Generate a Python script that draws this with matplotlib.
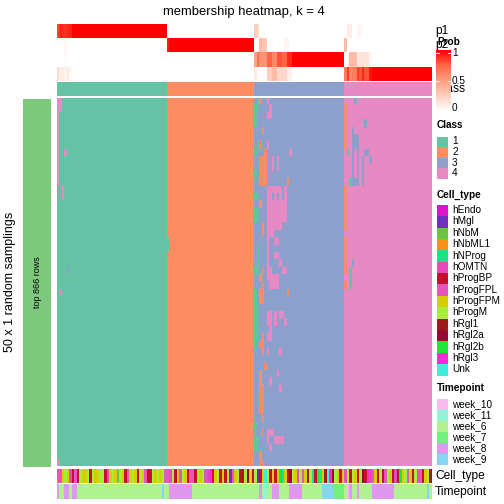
import numpy as np
import matplotlib
matplotlib.use("Agg")
import matplotlib.pyplot as plt
from matplotlib.colors import ListedColormap, LinearSegmentedColormap

plt.rcParams['font.family'] = ['Liberation Sans', 'DejaVu Sans']

# ---------------- data ----------------
title = "membership heatmap, k = 4"
class_sizes = [44, 35, 36, 35]          # samples per consensus class (columns)
n_rows = 50                              # random samplings
class_labels = ["1", "2", "3", "4"]
class_colors = ["#66C2A5", "#FC8D62", "#8DA0CB", "#E78AC3"]

# deviations in the membership matrix: (row_from, row_to, col_from, col_to, class), cols relative to group start
dev_group1 = [(0, 1, 0, 1, 4), (2, 11, 0, 0, 4), (7, 7, 3, 3, 4), (12, 13, 2, 2, 4),
              (23, 23, 4, 4, 3), (26, 26, 1, 1, 4), (49, 49, 0, 0, 4)]
dev_group2 = [(19, 20, 0, 0, 1)]
dev_group3 = [(0, 0, 1, 1, 1), (0, 0, 2, 2, 2), (0, 0, 5, 5, 4), (1, 1, 0, 1, 1), (1, 1, 6, 6, 4),
              (2, 2, 0, 0, 1), (2, 2, 5, 6, 4), (3, 3, 0, 0, 1), (4, 4, 3, 3, 2),
              (6, 6, 1, 1, 1), (6, 6, 2, 2, 2), (6, 6, 5, 5, 4), (7, 7, 0, 0, 1), (7, 7, 4, 4, 2),
              (7, 7, 14, 14, 4), (8, 11, 2, 4, 2), (8, 9, 7, 7, 4), (8, 9, 9, 9, 4), (10, 10, 0, 0, 1),
              (11, 11, 13, 13, 2), (12, 16, 5, 12, 4), (13, 13, 7, 7, 3), (13, 13, 9, 9, 3),
              (12, 13, 11, 11, 3), (13, 13, 0, 1, 1), (14, 14, 2, 2, 2), (15, 16, 0, 1, 1),
              (17, 17, 5, 10, 4), (17, 18, 3, 3, 2), (18, 18, 5, 7, 4), (19, 19, 5, 5, 4),
              (19, 19, 8, 9, 4), (20, 22, 5, 5, 4), (20, 22, 1, 1, 1), (21, 21, 8, 9, 4),
              (22, 22, 10, 10, 4), (23, 23, 0, 1, 1), (23, 23, 3, 3, 2), (23, 23, 5, 6, 4),
              (23, 23, 11, 12, 4), (24, 24, 2, 2, 2), (24, 24, 5, 5, 4), (24, 25, 6, 9, 4),
              (25, 25, 3, 3, 2), (26, 27, 0, 0, 1), (26, 27, 2, 3, 2), (26, 26, 13, 13, 2),
              (28, 32, 0, 1, 1), (29, 30, 5, 6, 4), (29, 30, 8, 8, 4), (29, 29, 10, 11, 4),
              (30, 30, 12, 12, 4), (31, 31, 6, 6, 4), (32, 32, 3, 3, 2), (32, 32, 5, 6, 4),
              (33, 33, 0, 0, 1), (33, 33, 2, 3, 2), (34, 34, 3, 3, 2), (34, 34, 5, 5, 4),
              (34, 34, 10, 10, 4), (36, 36, 4, 4, 2), (37, 38, 2, 2, 2), (37, 37, 9, 9, 4),
              (38, 38, 6, 6, 4), (39, 42, 2, 3, 2), (39, 39, 10, 10, 4), (43, 43, 3, 3, 2),
              (44, 44, 0, 0, 1), (45, 45, 3, 3, 2), (45, 45, 5, 7, 4), (46, 47, 0, 1, 1),
              (46, 46, 5, 5, 4), (46, 46, 8, 11, 4), (47, 47, 6, 6, 4), (48, 48, 2, 2, 2),
              (49, 49, 2, 3, 2)]
dev_group4 = [(1, 6, 0, 0, 2), (12, 17, 0, 0, 2), (19, 23, 0, 0, 2), (25, 25, 0, 0, 2),
              (0, 0, 4, 4, 3), (3, 3, 8, 8, 3), (4, 4, 3, 3, 3), (5, 11, 3, 5, 3), (7, 10, 4, 4, 4),
              (7, 7, 1, 1, 1), (7, 7, 8, 9, 3), (8, 8, 7, 7, 3), (8, 8, 10, 10, 3), (9, 11, 7, 7, 3),
              (11, 11, 2, 2, 1), (22, 22, 3, 3, 3), (23, 25, 2, 2, 1)]

# membership probabilities that are not 0/1: {col offset: (p1, p2, p3, p4)} per group
prob_group1 = {0: (0.82, 0.0, 0.0, 0.18), 1: (0.9, 0.0, 0.0, 0.1), 2: (0.9, 0.0, 0.0, 0.1),
               3: (0.88, 0.04, 0.02, 0.06), 4: (0.9, 0.0, 0.0, 0.1), 5: (0.92, 0.0, 0.0, 0.05)}
prob_group2 = {0: (0.02, 0.92, 0.0, 0.0)}
prob_group3 = {0: (0.25, 0.0, 0.45, 0.1), 1: (0.2, 0.0, 0.7, 0.0), 2: (0.0, 0.35, 0.55, 0.0),
               3: (0.0, 0.3, 0.55, 0.0), 4: (0.0, 0.3, 0.55, 0.0), 5: (0.0, 0.0, 0.75, 0.25),
               6: (0.0, 0.0, 0.75, 0.25), 7: (0.0, 0.0, 0.6, 0.35), 8: (0.0, 0.0, 0.6, 0.35),
               9: (0.0, 0.0, 0.8, 0.2), 10: (0.0, 0.0, 0.8, 0.2), 11: (0.0, 0.0, 0.75, 0.2),
               12: (0.0, 0.05, 0.75, 0.2), 13: (0.0, 0.05, 0.9, 0.08), 14: (0.0, 0.0, 0.9, 0.08)}
prob_group4 = {0: (0.0, 0.35, 0.0, 0.65), 1: (0.1, 0.0, 0.05, 0.85), 2: (0.1, 0.0, 0.35, 0.6),
               3: (0.0, 0.0, 0.35, 0.65), 4: (0.0, 0.0, 0.35, 0.65), 5: (0.05, 0.0, 0.1, 0.85),
               6: (0.05, 0.0, 0.15, 0.8), 7: (0.0, 0.0, 0.15, 0.9), 8: (0.0, 0.0, 0.15, 0.8),
               9: (0.0, 0.0, 0.15, 0.8), 10: (0.0, 0.0, 0.05, 0.95)}

cell_types = ["hEndo", "hMgl", "hNbM", "hNbML1", "hNProg", "hOMTN", "hProgBP", "hProgFPL",
              "hProgFPM", "hProgM", "hRgl1", "hRgl2a", "hRgl2b", "hRgl3", "Unk"]
cell_type_colors = ["#DE14C8", "#7030BE", "#68C444", "#F6921A", "#1EE08C", "#E44DB9", "#C8102E",
                    "#E456BE", "#D6CF00", "#A6EE3A", "#9A1C1C", "#950A32", "#22E33A", "#FF2AD4",
                    "#3EEEDC"]
cell_type_codes = "EGNLPOBFYM1A23U"
cell_type_seq = ("FFYMYOBFBMYYMBMYYMMBOYMYNMYBFYMYBMYFBBMYMYM"
                 "FFOMBYFMYBFFBMYMFO3BYMBYBMGFYMB"
                 "1MAYBMGBYUMBYBY2PYBAMYOMFY1MPB2PY"
                 "1U3AMYBYFMBMYBMAB3OFYBMBFMYBOB2YMFYBMOFBYM1AB2MYFBMYOB")
timepoints = ["week_10", "week_11", "week_6", "week_7", "week_8", "week_9"]
timepoint_colors = ["#FBBAEE", "#8EF5D6", "#B0F290", "#73F07A", "#DE99EE", "#86D6F2"]
# runs of (timepoint, number of samples)
timepoint_runs = [("week_8", 1), ("week_6", 2), ("week_8", 2), ("week_6", 1), ("week_8", 2),
                  ("week_6", 34), ("week_9", 1), ("week_6", 2), ("week_8", 9), ("week_6", 27),
                  ("week_8", 1), ("week_6", 1), ("week_11", 1), ("week_6", 2), ("week_8", 3),
                  ("week_6", 4), ("week_8", 5), ("week_6", 8), ("week_9", 5), ("week_7", 4),
                  ("week_6", 1), ("week_10", 1), ("week_8", 1), ("week_6", 2), ("week_8", 1),
                  ("week_6", 5), ("week_8", 9), ("week_6", 13), ("week_9", 1), ("week_6", 1)]

# ---------------- build matrices ----------------
n_cols = sum(class_sizes)
starts = np.cumsum([0] + class_sizes[:-1])
col_class = np.concatenate([np.full(s, i + 1) for i, s in enumerate(class_sizes)])
mat = np.tile(col_class, (n_rows, 1)).astype(float)
for g, devs in enumerate([dev_group1, dev_group2, dev_group3, dev_group4]):
    for r0, r1, c0, c1, k in devs:
        mat[r0:r1 + 1, starts[g] + c0:starts[g] + c1 + 1] = k

probs = np.zeros((4, n_cols))
probs[col_class - 1, np.arange(n_cols)] = 1.0
for g, pd_ in enumerate([prob_group1, prob_group2, prob_group3, prob_group4]):
    for c, vals in pd_.items():
        probs[:, starts[g] + c] = vals

ct_idx = np.array([cell_type_codes.index(ch) for ch in cell_type_seq[:n_cols]])
tp_idx = np.concatenate([np.full(n, timepoints.index(t)) for t, n in timepoint_runs])[:n_cols]

# ---------------- drawing ----------------
W = H = 504
fig = plt.figure(figsize=(7, 7), dpi=72)

def ax_px(x0, y0, x1, y1, z=1):
    a = fig.add_axes([x0 / W, 1 - y1 / H, (x1 - x0) / W, (y1 - y0) / H])
    a.set_axis_off()
    a.set_zorder(z)
    return a

prob_cmap = LinearSegmentedColormap.from_list(
    "prob", [(0, "#FFFFFF"), (0.25, "#FFCFBF"), (0.5, "#FF9E81"), (0.75, "#FF6746"), (1, "#FF0000")])
class_cmap = ListedColormap(class_colors)

X0, X1 = 57, 431
fig.text(244 / W, 1 - 12 / H, title, ha="center", va="center", fontsize=13)

a = ax_px(X0, 24, X1, 80.7)
a.imshow(probs, cmap=prob_cmap, vmin=0, vmax=1, aspect="auto", interpolation="nearest")
a = ax_px(X0, 82.3, X1, 95.7)
a.imshow(col_class[None, :], cmap=class_cmap, vmin=0.5, vmax=4.5, aspect="auto", interpolation="nearest")
a = ax_px(X0, 98, X1, 466.5)
a.imshow(mat, cmap=class_cmap, vmin=0.5, vmax=4.5, aspect="auto", interpolation="nearest")

a = ax_px(X0, 469, X1, 482.7)
a.imshow(ct_idx[None, :], cmap=ListedColormap(cell_type_colors), vmin=-0.5, vmax=14.5,
         aspect="auto", interpolation="nearest")
a = ax_px(X0, 484.3, X1, 498.5)
a.imshow(tp_idx[None, :], cmap=ListedColormap(timepoint_colors), vmin=-0.5, vmax=5.5,
         aspect="auto", interpolation="nearest")
fig.text(435 / W, 1 - 476 / H, "Cell_type", ha="left", va="center", fontsize=12)
fig.text(435 / W, 1 - 491.5 / H, "Timepoint", ha="left", va="center", fontsize=12)

# left split bar
a = ax_px(23, 98.5, 51, 466.5)
a.add_patch(plt.Rectangle((0, 0), 1, 1, color="#7FC97F"))
a.set_xlim(0, 1); a.set_ylim(0, 1)
a.text(0.5, 0.5, "top 866 rows", rotation=90, ha="center", va="center", fontsize=9)
fig.text(10 / W, 1 - 282 / H, "50 x 1 random samplings", rotation=90, ha="center", va="center", fontsize=12.5)

# row labels of top annotation (placed in a low background axes so the legend covers them)
bg = ax_px(0, 0, W, H, z=0)
bg.set_xlim(0, W); bg.set_ylim(H, 0)
for lab, yc in zip(["p1", "p2", "p3", "p4", "Class"], [31, 44.7, 58.7, 73, 89]):
    bg.text(435, yc, lab, ha="left", va="center", fontsize=12)

# Prob colour legend (drawn on top)
cb = ax_px(436, 50, 451, 111, z=10)
cb.set_xlim(0, 15); cb.set_ylim(111, 50)
cb.add_patch(plt.Rectangle((0, 50), 15, 61, color="white", zorder=0))
grad = np.linspace(1, 0, 200)[:, None]
cb.imshow(grad, cmap=prob_cmap, vmin=0, vmax=1, aspect="auto", extent=(0, 14.4, 111, 50), zorder=1)
cb.set_xlim(0, 15); cb.set_ylim(111, 50)
for v in [1, 0.5]:
    y = 108.3 - v * (108.3 - 52.7)
    cb.plot([0, 2.5], [y, y], color="white", lw=1, zorder=2)
    cb.plot([11.9, 14.4], [y, y], color="white", lw=1, zorder=2)
top = ax_px(0, 0, W, H, z=11)
top.set_xlim(0, W); top.set_ylim(H, 0)
top.patch.set_alpha(0)
top.text(437, 42, "Prob", ha="left", va="center", fontsize=10, fontweight="bold")
for v, lab in [(1, "1"), (0.5, "0.5"), (0, "0")]:
    y = 108.3 - v * (108.3 - 52.7)
    top.text(452, y, lab, ha="left", va="center", fontsize=10)

def legend(title_txt, ytitle, ybox0, step, labels, colors):
    top.text(437, ytitle, title_txt, ha="left", va="center", fontsize=10, fontweight="bold")
    for i, (lab, col) in enumerate(zip(labels, colors)):
        y0 = ybox0 + i * step
        top.add_patch(plt.Rectangle((437, y0 + 0.5), 10, step - 1, color=col))
        top.text(452, y0 + step / 2, lab, ha="left", va="center", fontsize=10)

legend("Class", 125.5, 136, 10.6, class_labels, class_colors)
legend("Cell_type", 195, 204.3, 11.38, cell_types, cell_type_colors)
legend("Timepoint", 388.3, 398.3, 11.1, timepoints, timepoint_colors)

fig.savefig("out.png", dpi=72)
